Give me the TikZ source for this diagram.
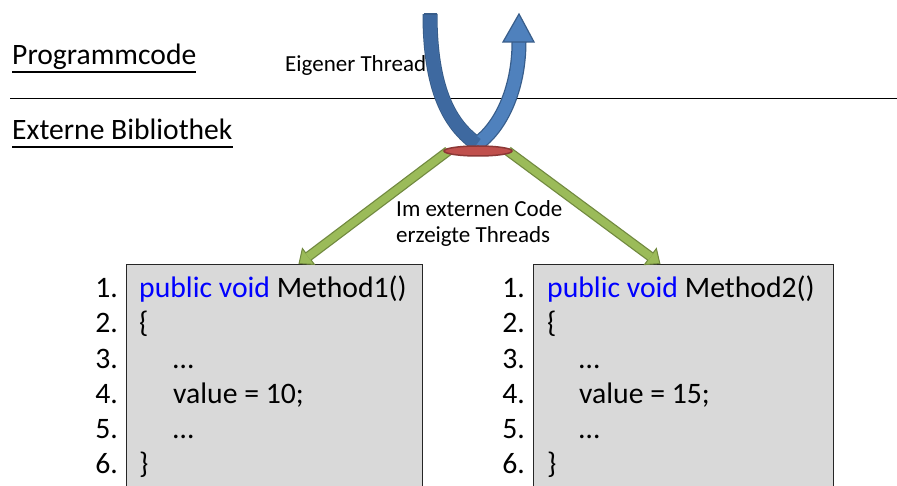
\documentclass[tikz,border=0pt]{standalone}
\usepackage{fontspec}
\setmainfont{Carlito}
\usetikzlibrary{shapes.geometric,arrows.meta}
\definecolor{ublueL}{RGB}{79,129,189}
\definecolor{ublueD}{RGB}{62,105,160}
\definecolor{ublueB}{RGB}{56,93,138}
\definecolor{gfill}{RGB}{155,187,89}
\definecolor{gborder}{RGB}{113,137,63}
\definecolor{redF}{RGB}{192,80,77}
\definecolor{redB}{RGB}{140,56,54}
\definecolor{boxgray}{RGB}{217,217,217}
\definecolor{kwblue}{RGB}{0,0,255}
\pgfdeclarelayer{bg}
\pgfsetlayers{bg,main}
\begin{document}
\begin{tikzpicture}[x=1pt,y=-1pt,
  heading/.style={anchor=base west,inner sep=0pt,font=\fontsize{29.6}{34}\selectfont},
  smalllabel/.style={anchor=base west,inner sep=0pt,font=\fontsize{23}{27}\selectfont},
  uline/.style={line width=1.6pt},
  codebox/.style={draw=black!85,line width=0.9pt,fill=boxgray,anchor=north west,inner sep=0pt,minimum height=230pt},
  num/.style={anchor=base east,inner sep=0pt,font=\fontsize{29.7}{35}\selectfont},
  code/.style={anchor=base west,inner sep=0pt,font=\fontsize{29.7}{35}\selectfont},
  garrow/.style={line width=10pt,draw=gborder,-{Triangle[length=13pt,width=22pt,line width=1pt,fill=gfill]}},
  gfillline/.style={line width=7.5pt,draw=gfill,shorten >=12pt},
  hubstyle/.style={ellipse,draw=redB,fill=redF,line width=1.5pt,minimum width=68pt,minimum height=10pt,inner sep=0pt}
]
\useasboundingbox (0,0) rectangle (897,486);

% divider
\draw[line width=1.2pt] (10,98.5) -- (897,98.5);

% headings
\node[heading] (prog) at (12,65) {Programmcode};
\draw[uline] ([yshift=-7pt]prog.base west) -- ([yshift=-7pt]prog.base east);
\node[heading] (ext) at (12,140) {Externe Bibliothek};
\draw[uline] ([yshift=-7pt]ext.base west) -- ([yshift=-7pt]ext.base east);

\node[smalllabel] (eig) at (285,72) {Eigener Thread};
\node[smalllabel] (lab1) at (396,217) {Im externen Code};
\node[smalllabel] (lab2) at (396,243) {erzeigte Threads};

% U-turn arrow
\draw[line width=15pt,ublueB,line cap=butt,line join=miter]
  (430,14) .. controls (430,90) and (450,125) .. (477,144) .. controls (500,128) and (519,90) .. (519,42);
\draw[line width=12.5pt,ublueL,line cap=butt,line join=miter]
  (430,14) .. controls (430,90) and (450,125) .. (477,144) .. controls (500,128) and (519,90) .. (519,42);
\draw[line width=12.5pt,ublueD,line cap=butt]
  (430,14) .. controls (430,90) and (450,125) .. (477,144);
\draw[line width=1.2pt,ublueB] (423.5,14) -- (436.5,14);
\filldraw[fill=ublueL,draw=ublueB,line width=1.2pt,line join=miter] (503,42) -- (534,42) -- (519,14) -- cycle;

% hub ellipse
\node[hubstyle] (hub) at (478,151) {};

% background, boxes and green arrows (background layer)
\begin{pgfonlayer}{bg}
\fill[white] (0,0) rectangle (897,486);
\node[codebox,minimum width=296pt] (box1) at (126,264) {};
\node[codebox,minimum width=300pt] (box2) at (533,264) {};
\draw[garrow] ([xshift=5pt]hub.west) -- ([xshift=24pt]box1.north);
\draw[gfillline] ([xshift=5pt]hub.west) -- ([xshift=24pt]box1.north);
\draw[garrow] ([xshift=-5pt]hub.east) -- ([xshift=-23pt]box2.north);
\draw[gfillline] ([xshift=-5pt]hub.east) -- ([xshift=-23pt]box2.north);
\end{pgfonlayer}

% line numbers
\foreach \i/\y in {1/298,2/333,3/368,4/403,5/438,6/473}{
  \node[num] (na\i) at (118,\y) {\i.};
  \node[num] (nb\i) at (525,\y) {\i.};
}

% code left
\node[code] (a1) at (139,298) {\textcolor{kwblue}{public void} Method1()};
\node[code] (a2) at (139,333) {\{};
\node[code] (a3) at (173,368) {…};
\node[code] (a4) at (173,403) {value = 10;};
\node[code] (a5) at (173,438) {…};
\node[code] (a6) at (139,473) {\}};

% code right
\node[code] (b1) at (547,298) {\textcolor{kwblue}{public void} Method2()};
\node[code] (b2) at (547,333) {\{};
\node[code] (b3) at (579,368) {…};
\node[code] (b4) at (579,403) {value = 15;};
\node[code] (b5) at (579,438) {…};
\node[code] (b6) at (547,473) {\}};
\end{tikzpicture}
\end{document}
